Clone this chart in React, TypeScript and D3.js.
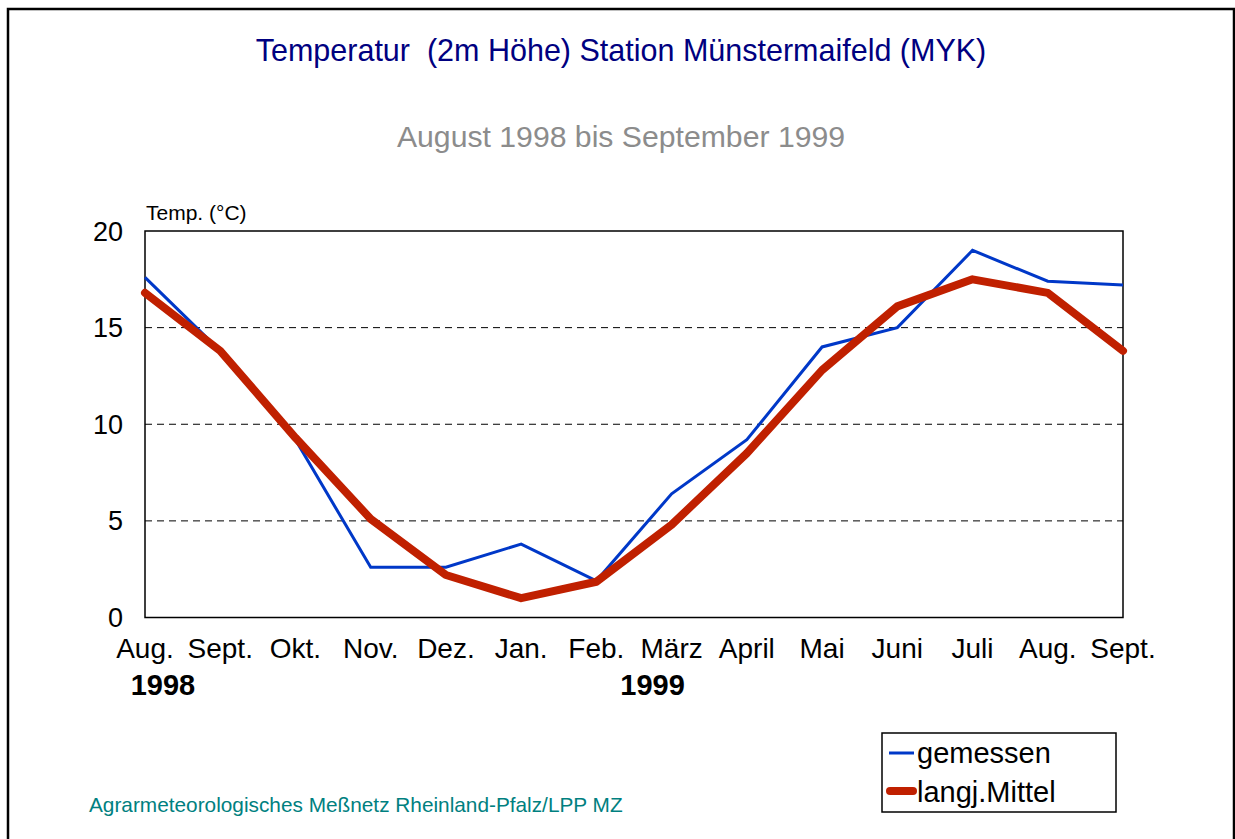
import React, { useEffect, useRef } from 'react';
import * as d3 from 'd3';

const months = ['Aug.', 'Sept.', 'Okt.', 'Nov.', 'Dez.', 'Jan.', 'Feb.', 'März', 'April', 'Mai', 'Juni', 'Juli', 'Aug.', 'Sept.'];
const gemessen = [17.6, 13.8, 9.2, 2.6, 2.6, 3.8, 1.9, 6.4, 9.2, 14.0, 15.0, 19.0, 17.4, 17.2];
const mittel = [16.8, 13.8, 9.3, 5.1, 2.2, 1.0, 1.85, 4.8, 8.5, 12.8, 16.1, 17.5, 16.8, 13.8];
const yTicks = [0, 5, 10, 15, 20];
const gridTicks = [5, 10, 15];

const W = 1235;
const H = 839;
const font = 'Arial, "Liberation Sans", sans-serif';

export default function App() {
  const ref = useRef<SVGSVGElement>(null);

  useEffect(() => {
    const svg = d3.select(ref.current);
    svg.selectAll('*').remove();

    const left = 145, right = 1123, top = 231, bottom = 617.5;
    const x = d3.scalePoint<number>().domain(d3.range(months.length)).range([left, right]);
    const y = d3.scaleLinear().domain([0, 20]).range([bottom, top]);

    svg.append('rect').attr('width', W).attr('height', H).attr('fill', '#fff');
    // outer frame
    svg.append('rect')
      .attr('x', 8).attr('y', 9).attr('width', 1226).attr('height', 840)
      .attr('fill', 'none').attr('stroke', '#000').attr('stroke-width', 2.5);

    svg.append('text')
      .attr('x', 621).attr('y', 61)
      .attr('text-anchor', 'middle')
      .style('font-family', font).style('font-size', '30.5px')
      .attr('fill', '#000080')
      .attr('xml:space', 'preserve')
      .text('Temperatur  (2m Höhe) Station Münstermaifeld (MYK)');

    svg.append('text')
      .attr('x', 621).attr('y', 147)
      .attr('text-anchor', 'middle')
      .style('font-family', font).style('font-size', '30.2px')
      .attr('fill', '#8c8c8c')
      .text('August 1998 bis September 1999');

    // gridlines
    svg.selectAll('.grid')
      .data(gridTicks)
      .enter()
      .append('line')
      .attr('x1', left).attr('x2', right)
      .attr('y1', (d) => y(d)).attr('y2', (d) => y(d))
      .attr('stroke', '#000').attr('stroke-width', 1)
      .attr('stroke-dasharray', '7,5');

    // plot frame
    svg.append('rect')
      .attr('x', left).attr('y', top).attr('width', right - left).attr('height', bottom - top)
      .attr('fill', 'none').attr('stroke', '#000').attr('stroke-width', 1.5);

    svg.append('text')
      .attr('x', 146).attr('y', 220)
      .style('font-family', font).style('font-size', '21px')
      .text('Temp. (°C)');

    svg.selectAll('.ytick')
      .data(yTicks)
      .enter()
      .append('text')
      .attr('x', 123).attr('y', (d) => y(d) + 9.5)
      .attr('text-anchor', 'end')
      .style('font-family', font).style('font-size', '27px')
      .text((d) => d);

    svg.selectAll('.xtick')
      .data(months)
      .enter()
      .append('text')
      .attr('x', (d, i) => x(i) as number)
      .attr('y', 658)
      .attr('text-anchor', 'middle')
      .style('font-family', font).style('font-size', '28px')
      .text((d) => d);

    svg.append('text')
      .attr('x', (x(0) as number) + 18).attr('y', 695)
      .attr('text-anchor', 'middle')
      .style('font-family', font).style('font-size', '29px').style('font-weight', 'bold')
      .text('1998');
    svg.append('text')
      .attr('x', (x(7) as number) - 19).attr('y', 695)
      .attr('text-anchor', 'middle')
      .style('font-family', font).style('font-size', '29px').style('font-weight', 'bold')
      .text('1999');

    const line = d3.line<number>().x((d, i) => x(i) as number).y((d) => y(d));

    svg.append('path')
      .attr('d', line(gemessen))
      .attr('fill', 'none').attr('stroke', '#0038c8').attr('stroke-width', 3)
      .attr('stroke-linejoin', 'miter');

    svg.append('path')
      .attr('d', line(mittel))
      .attr('fill', 'none').attr('stroke', '#c02000').attr('stroke-width', 8)
      .attr('stroke-linejoin', 'round').attr('stroke-linecap', 'round');

    // legend
    const lg = svg.append('g');
    lg.append('rect')
      .attr('x', 882).attr('y', 733).attr('width', 234).attr('height', 79)
      .attr('fill', '#fff').attr('stroke', '#000').attr('stroke-width', 1.5);
    lg.append('line')
      .attr('x1', 889).attr('x2', 914).attr('y1', 753).attr('y2', 753)
      .attr('stroke', '#0038c8').attr('stroke-width', 3);
    lg.append('line')
      .attr('x1', 890).attr('x2', 913).attr('y1', 791).attr('y2', 791)
      .attr('stroke', '#c02000').attr('stroke-width', 8).attr('stroke-linecap', 'round');
    lg.append('text')
      .attr('x', 917).attr('y', 763)
      .style('font-family', font).style('font-size', '29px')
      .text('gemessen');
    lg.append('text')
      .attr('x', 917).attr('y', 802)
      .style('font-family', font).style('font-size', '29px')
      .text('langj.Mittel');

    svg.append('text')
      .attr('x', 89).attr('y', 812)
      .style('font-family', font).style('font-size', '20.8px')
      .attr('fill', '#008080')
      .text('Agrarmeteorologisches Meßnetz Rheinland-Pfalz/LPP MZ');
  }, []);

  return (
    <svg
      ref={ref}
      width={W}
      height={H}
      style={{ position: 'absolute', left: 0, top: 0, display: 'block' }}
    />
  );
}
